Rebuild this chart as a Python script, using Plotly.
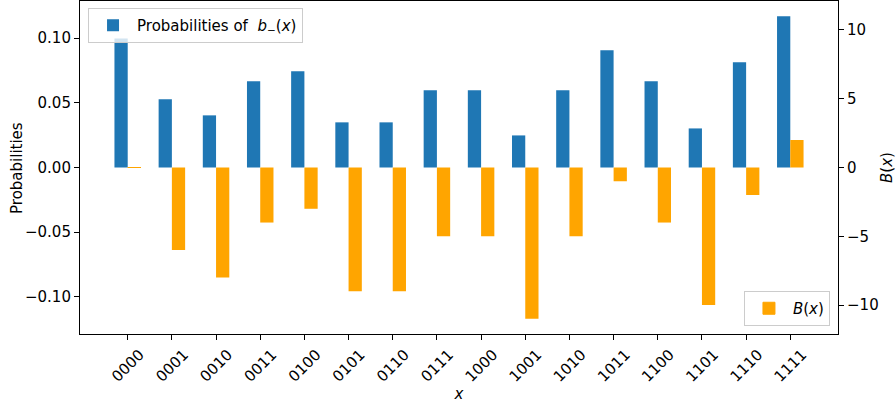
import plotly.graph_objects as go

categories = ["0000", "0001", "0010", "0011", "0100", "0101", "0110", "0111",
              "1000", "1001", "1010", "1011", "1100", "1101", "1110", "1111"]
probs = [0.0997, 0.0527, 0.0403, 0.0667, 0.0744, 0.0349, 0.0349, 0.0597,
         0.0597, 0.0248, 0.0597, 0.0907, 0.0667, 0.0302, 0.0814, 0.1170]
B_vals = [0, -6, -8, -4, -3, -9, -9, -5, -5, -11, -5, -1, -4, -10, -2, 2]

BLUE = "#1f77b4"
ORANGE = "#FFA500"
FONT = "DejaVu Sans"
FS = 15

pmax = max(abs(v) for v in probs) * 1.1
bmax = max(abs(v) for v in B_vals) * 1.1

fig = go.Figure()
fig.add_trace(go.Bar(
    x=categories, y=probs, width=0.3, offset=-0.3,
    marker=dict(color=BLUE, line=dict(width=0)),
    name="Probabilities of  <i>b</i><sub>−</sub>(<i>x</i>)",
    legend="legend", yaxis="y", showlegend=True,
))
fig.add_trace(go.Bar(
    x=categories, y=B_vals, width=0.3, offset=0,
    marker=dict(color=ORANGE, line=dict(color=ORANGE, width=[1 if v == 0 else 0 for v in B_vals])),
    name="<i>B</i>(<i>x</i>)",
    legend="legend2", yaxis="y2", showlegend=True,
))

axis_common = dict(showline=True, linecolor="black", linewidth=1.1,
                   ticks="outside", ticklen=5, tickwidth=1.1, tickcolor="black",
                   showgrid=False, zeroline=False, automargin=False,
                   tickfont=dict(family=FONT, size=FS, color="black"))

fig.update_layout(
    width=896, height=403,
    margin=dict(l=80, r=58, t=1, b=69),
    paper_bgcolor="white", plot_bgcolor="white",
    barmode="overlay", showlegend=True,
    font=dict(family=FONT, size=FS, color="black"),
    xaxis=dict(**axis_common, mirror=True, type="category",
               range=[-1.08, 16.08], tickangle=-45, ticklabelshift=12,
               title=dict(text="<i>x</i>", standoff=0,
                          font=dict(family=FONT, size=FS))),
    yaxis=dict(**axis_common, range=[-pmax, pmax],
               tickvals=[-0.10, -0.05, 0.0, 0.05, 0.10], tickformat=".2f"),
    yaxis2=dict(**axis_common, range=[-bmax, bmax], overlaying="y", side="right",
                tickvals=[-10, -5, 0, 5, 10],
                title=dict(text="<i>B</i>(<i>x</i>)", standoff=6,
                           font=dict(family=FONT, size=FS))),
    legend=dict(x=0.0106, y=0.979, xanchor="left", yanchor="top",
                bgcolor="rgba(255,255,255,0.8)", bordercolor="#cccccc", borderwidth=1,
                itemwidth=38, font=dict(family=FONT, size=FS)),
    legend2=dict(x=0.9894, y=0.024, xanchor="right", yanchor="bottom",
                 bgcolor="rgba(255,255,255,0.8)", bordercolor="#cccccc", borderwidth=1,
                 itemwidth=38, font=dict(family=FONT, size=FS)),
    annotations=[dict(text="Probabilities", xref="paper", yref="paper",
                      x=-0.0838, y=0.5, xanchor="center", yanchor="middle",
                      textangle=-90, showarrow=False,
                      font=dict(family=FONT, size=FS, color="black"))],
)

fig.write_html("out.html", config={"displayModeBar": False},
               post_script="document.body.style.margin='0';document.body.style.overflow='hidden';")
